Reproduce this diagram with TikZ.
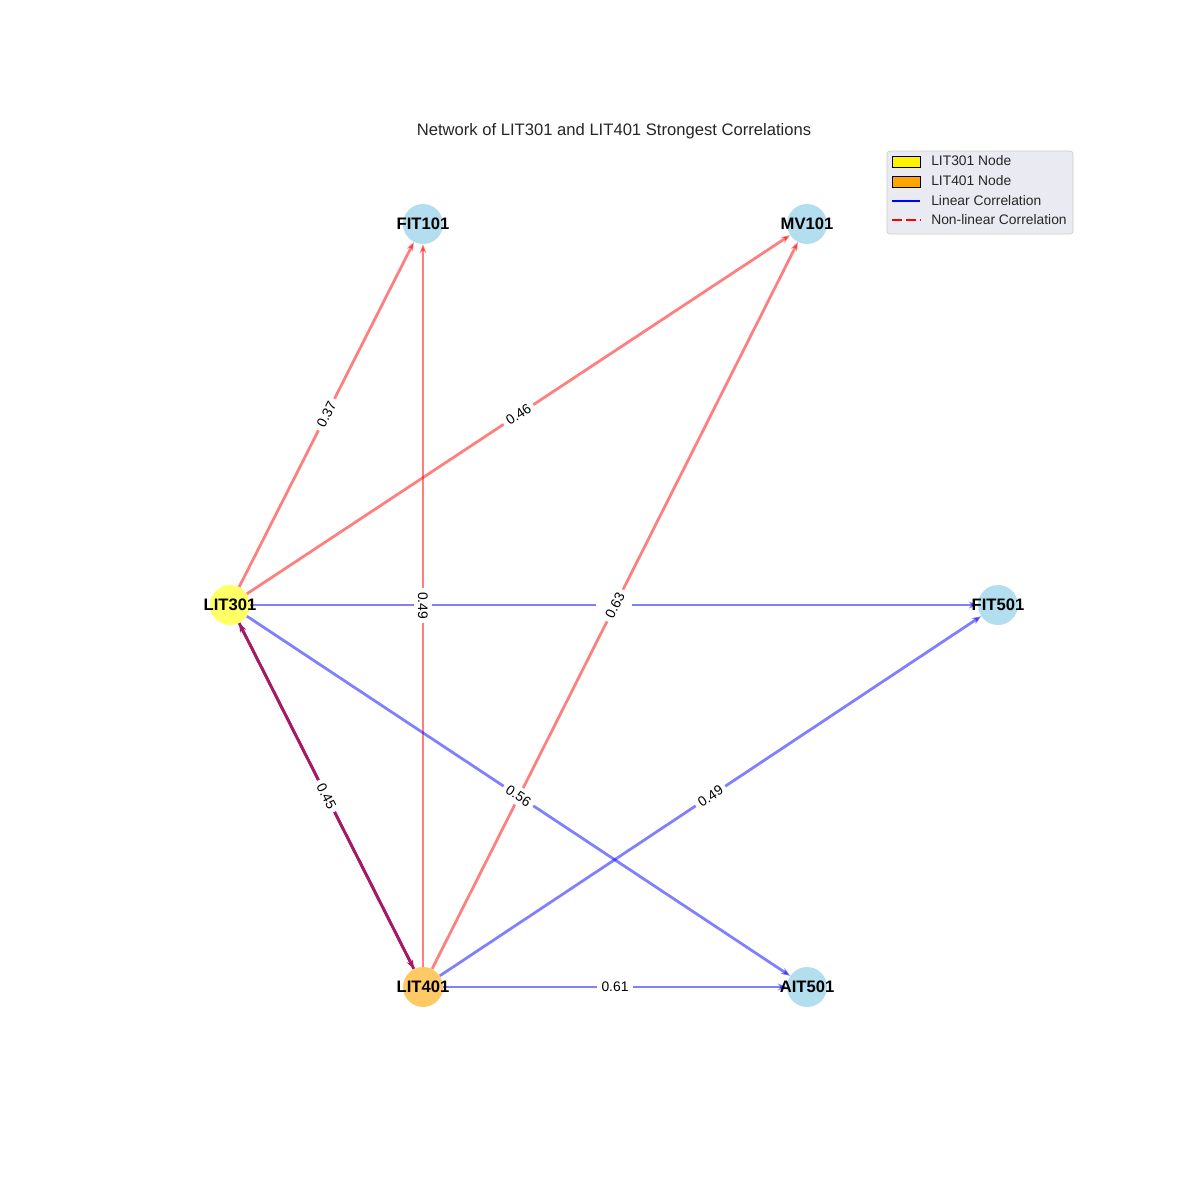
\documentclass[tikz,border=0pt]{standalone}
\usepackage{fontspec}
\setmainfont{Liberation Sans}
\usetikzlibrary{arrows.meta}
\definecolor{skyfill}{RGB}{178,222,240}
\definecolor{lit3fill}{RGB}{255,255,102}
\definecolor{lit4fill}{RGB}{255,201,102}
\definecolor{mplorange}{RGB}{255,165,0}
\definecolor{pairc}{RGB}{165,25,105}
\definecolor{legbg}{RGB}{234,234,242}
\definecolor{titlec}{RGB}{38,38,38}
\begin{document}
\begin{tikzpicture}[x=0.01in,y=-0.01in,
		sensor/.style={circle,minimum size=0.4in,inner sep=0pt},
		tag/.style={font=\bfseries\fontsize{12}{14}\selectfont},
		lin/.style={blue,opacity=0.5,line width=2pt,-{Stealth[length=6.5pt,width=5pt]}},
		nonlin/.style={red,opacity=0.5,line width=2pt,-{Stealth[length=6.5pt,width=5pt]}},
		both/.style={pairc,line width=2pt,-{Stealth[length=6.5pt,width=5pt]}},
		lbl/.style={fill=white,inner sep=3pt,font=\fontsize{10}{12}\selectfont}]
			\useasboundingbox (0,0) rectangle (1200,1200);
			
			\node[font=\fontsize{12}{14}\selectfont,text=titlec] (title) at (614,131) {Network of LIT301 and LIT401 Strongest Correlations};
			
			\node[sensor,fill=skyfill] (fit101) at (423,224) {};
			\node[sensor,fill=skyfill] (mv101) at (807,224) {};
			\node[sensor,fill=lit3fill] (lit301) at (230,605) {};
			\node[sensor,fill=skyfill] (fit501) at (998,605) {};
			\node[sensor,fill=lit4fill] (lit401) at (423,987) {};
			\node[sensor,fill=skyfill] (ait501) at (807,987) {};
			
			\draw[nonlin] (lit301) -- (fit101);
			\draw[nonlin] (lit301) -- (mv101);
			\draw[nonlin] (lit401) -- (fit101);
			\draw[nonlin] (lit401) -- (mv101);
			\draw[lin] (lit301) -- (fit501);
			\draw[lin] (lit301) -- (ait501);
			\draw[lin] (lit401) -- (fit501);
			\draw[lin] (lit401) -- (ait501);
			\draw[both] (lit301) -- (lit401);
			\draw[both] (lit401) -- (lit301);
			
			\path (lit301) -- (fit101) node[lbl,midway,sloped] (l37) {0.37};
			\path (lit301) -- (mv101) node[lbl,midway,sloped] (l46) {0.46};
			\path (lit301) -- (fit501) node[lbl,midway] (lhid) {\phantom{0.00}};
			\path (lit401) -- (fit101) node[lbl,midway,rotate=-90] (l49a) {0.49};
			\path (lit401) -- (mv101) node[lbl,midway,sloped] (l63) {0.63};
			\path (lit301) -- (lit401) node[lbl,midway,sloped] (l45) {0.45};
			\path (lit301) -- (ait501) node[lbl,midway,sloped] (l56) {0.56};
			\path (lit401) -- (fit501) node[lbl,midway,sloped] (l49b) {0.49};
			\path (lit401) -- (ait501) node[lbl,midway] (l61) {0.61};
			
			\node[tag] (t101) at (fit101) {FIT101};
			\node[tag] (tmv) at (mv101) {MV101};
			\node[tag] (t301) at (lit301) {LIT301};
			\node[tag] (t501) at (fit501) {FIT501};
			\node[tag] (t401) at (lit401) {LIT401};
			\node[tag] (tait) at (ait501) {AIT501};
			
			\draw[draw=black!20,fill=legbg,rounded corners=2pt] (887,151) rectangle (1073,234);
			\draw[fill=yellow] (892,156) rectangle (920,167);
			\draw[fill=mplorange] (892,176) rectangle (920,187);
			\draw[blue,line width=2pt] (892,201) -- (920,201);
			\draw[red,line width=2pt,dash pattern=on 7pt off 3pt] (892,220) -- (920,220);
			\node[anchor=west,inner sep=0pt,text=titlec,font=\fontsize{10}{12}\selectfont] (k1) at (931,161) {LIT301 Node};
			\node[anchor=west,inner sep=0pt,text=titlec,font=\fontsize{10}{12}\selectfont] (k2) at (931,181) {LIT401 Node};
			\node[anchor=west,inner sep=0pt,text=titlec,font=\fontsize{10}{12}\selectfont] (k3) at (931,201) {Linear Correlation};
			\node[anchor=west,inner sep=0pt,text=titlec,font=\fontsize{10}{12}\selectfont] (k4) at (931,220) {Non-linear Correlation};
		\end{tikzpicture}
\end{document}
